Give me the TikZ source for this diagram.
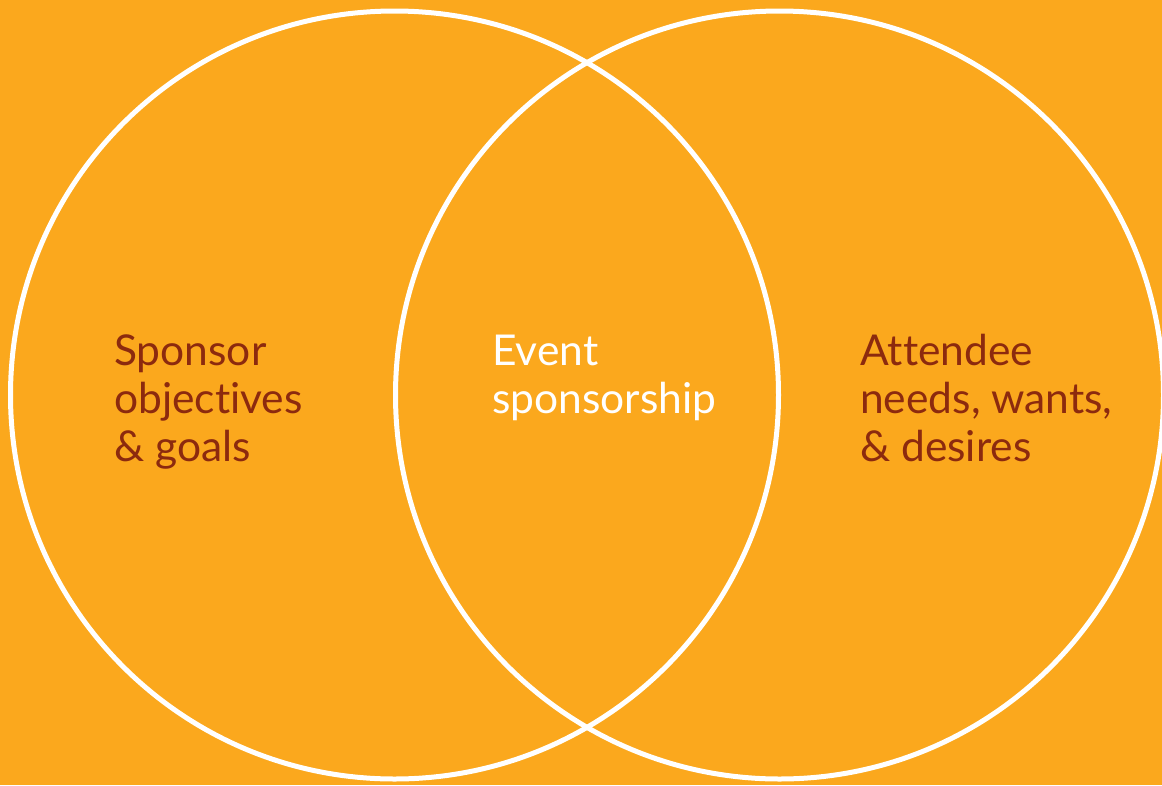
\documentclass[tikz,border=0pt]{standalone}
\usepackage{fontspec}
\setmainfont{Lato}[Ligatures={NoCommon,NoRare,NoDiscretionary}]
\definecolor{bgorange}{RGB}{251,168,29}
\definecolor{txtred}{RGB}{140,42,14}
\begin{document}
\begin{tikzpicture}[x=1pt,y=-1pt,
  ring/.style={draw=white,line width=5pt},
  label/.style={anchor=base west,inner sep=0pt,align=left,
    font=\fontsize{42.5}{48}\selectfont}]
\useasboundingbox (0,0) rectangle (1162,785);
\clip (0,0) rectangle (1162,785);
\fill[bgorange] (0,0) rectangle (1162,785);
\coordinate (cl) at (394.5,395);
\coordinate (cr) at (779.5,395);
\draw[ring] (cl) circle[radius=384pt];
\draw[ring] (cr) circle[radius=384pt];
\node[label,text=txtred] (sponsor) at (114,461) {Sponsor\\objectives\\\& goals};
\node[label,text=white] (event) at (492,413) {Event\\sponsorship};
\node[label,text=txtred] (attendee) at (860,461) {Attendee\\needs, wants,\\\& desires};
\end{tikzpicture}
\end{document}
